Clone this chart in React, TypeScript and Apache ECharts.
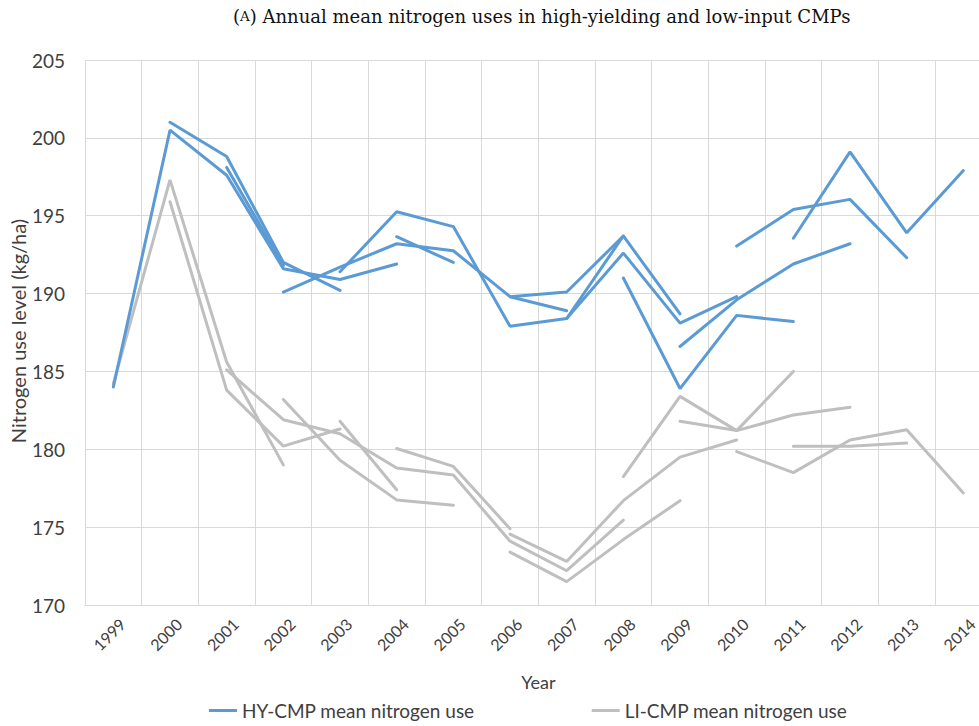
import React, { useEffect, useRef } from "react";
import * as echarts from "echarts";

const years = ["1999","2000","2001","2002","2003","2004","2005","2006","2007","2008","2009","2010","2011","2012","2013","2014"];

const yTicks = { min: 170, max: 205, interval: 5 };

const HY_NAME = "HY-CMP mean nitrogen use";
const LI_NAME = "LI-CMP mean nitrogen use";

// HY-CMP cohorts: first year and the yearly means
const hyStart = [1999, 2000, 2001, 2002, 2003, 2004, 2006, 2007, 2008, 2009, 2010, 2011];
const hyValues = [
  [184.0, 200.5, 197.6, 191.6, 190.9, 191.9],
  [201.0, 198.8, 192.0, 190.2],
  [198.1, 191.8],
  [190.1, 191.7, 193.2, 192.75, 189.8, 188.9],
  [191.4, 195.25, 194.3, 187.9, 188.4, 193.7],
  [193.65, 192.0],
  [189.8, 190.1, 193.7, 188.7],
  [188.4, 192.6, 188.1, 189.8],
  [191.0, 183.9, 188.6, 188.2],
  [186.6, 189.6, 191.9, 193.2],
  [193.05, 195.4, 196.05, 192.3],
  [193.55, 199.1, 193.9, 197.9],
];

// LI-CMP cohorts: first year and the yearly means
const liStart = [1999, 2000, 2001, 2002, 2003, 2004, 2006, 2006, 2008, 2009, 2010, 2011];
const liValues = [
  [184.2, 197.3, 185.6, 179.0],
  [195.9, 183.8, 180.2, 181.3],
  [185.1, 181.9, 181.0, 178.8, 178.35, 174.1, 172.2, 175.45],
  [183.2, 179.3, 176.75, 176.4],
  [181.8, 177.4],
  [180.05, 178.9, 174.9],
  [174.55, 172.8, 176.7, 179.5, 180.6],
  [173.4, 171.5, 174.2, 176.7],
  [178.25, 183.4, 181.2, 185.0],
  [181.8, 181.2, 182.2, 182.7],
  [179.85, 178.5, 180.6, 181.25, 177.2],
  [180.2, 180.2, 180.4],
];

const HY_COLOR = "#5b9bd5";
const LI_COLOR = "#bfbfbf";

function pad(start: number, vals: number[]) {
  const arr: (number | null)[] = years.map(() => null);
  const i0 = years.indexOf(String(start));
  vals.forEach((v, k) => { arr[i0 + k] = v; });
  return arr;
}

export default function App() {
  const ref = useRef<HTMLDivElement>(null);
  useEffect(() => {
    if (!ref.current) return;
    const chart = echarts.init(ref.current, null, { renderer: "svg" });
    const font = "Lato";
    const liSeries = liValues.map((vals, i) => ({
      name: LI_NAME,
      type: "line",
      data: pad(liStart[i], vals),
      symbol: "none",
      connectNulls: false,
      lineStyle: { color: LI_COLOR, width: 3, cap: "round" },
      itemStyle: { color: LI_COLOR },
      z: 2,
    }));
    const hySeries = hyValues.map((vals, i) => ({
      name: HY_NAME,
      type: "line",
      data: pad(hyStart[i], vals),
      symbol: "none",
      connectNulls: false,
      lineStyle: { color: HY_COLOR, width: 3, cap: "round" },
      itemStyle: { color: HY_COLOR },
      z: 3,
    }));
    chart.setOption({
      animation: false,
      backgroundColor: "#ffffff",
      textStyle: { fontFamily: font },
      graphic: [
        {
          type: "text",
          left: 233,
          top: 7,
          style: {
            text: "{a|(}{b|A}{a|) Annual mean nitrogen uses in high-yielding and low-input CMPs}",
            rich: {
              a: { fontFamily: "DejaVu Serif", fontSize: 18, fill: "#111" },
              b: { fontFamily: "DejaVu Serif", fontSize: 13.5, fill: "#111" },
            },
          },
        },
        {
          type: "text",
          x: 18,
          y: 331,
          rotation: Math.PI / 2,
          style: {
            text: "Nitrogen use level (kg/ha)",
            fontFamily: font,
            fontSize: 20,
            fill: "#404040",
            align: "center",
            verticalAlign: "middle",
          },
        },
      ],
      legend: {
        data: [HY_NAME, LI_NAME],
        left: 204,
        top: 696,
        icon: "rect",
        itemWidth: 28,
        itemHeight: 3,
        itemGap: 117,
        textStyle: { fontSize: 19, color: "#404040", fontFamily: font },
      },
      grid: { left: 85, right: -12.7, top: 60, bottom: 121, containLabel: false, outerBoundsMode: "none" },
      xAxis: {
        type: "category",
        data: years,
        boundaryGap: true,
        name: "Year",
        nameLocation: "middle",
        nameGap: 68,
        nameTextStyle: { fontSize: 18, color: "#404040", fontFamily: font },
        axisLine: { lineStyle: { color: "#d9d9d9", width: 1 } },
        axisTick: { show: false },
        splitLine: { show: true, lineStyle: { color: "#d9d9d9", width: 1 } },
        axisLabel: {
          rotate: 45,
          align: "center",
          verticalAlign: "middle",
          margin: 25,
          padding: [0, 12, 0, 0],
          fontSize: 16,
          color: "#404040",
          fontFamily: font,
          interval: 0,
        },
      },
      yAxis: {
        type: "value",
        min: yTicks.min,
        max: yTicks.max,
        interval: yTicks.interval,
        axisLine: { show: false },
        axisTick: { show: false },
        splitLine: { show: true, lineStyle: { color: "#d9d9d9", width: 1 } },
        axisLabel: { fontSize: 19, color: "#404040", margin: 20, fontFamily: font },
      },
      series: [...liSeries, ...hySeries],
    });
    return () => chart.dispose();
  }, []);
  return (
    <div
      ref={ref}
      style={{ position: "fixed", left: 0, top: 0, width: 979, height: 726, background: "#fff" }}
    />
  );
}
